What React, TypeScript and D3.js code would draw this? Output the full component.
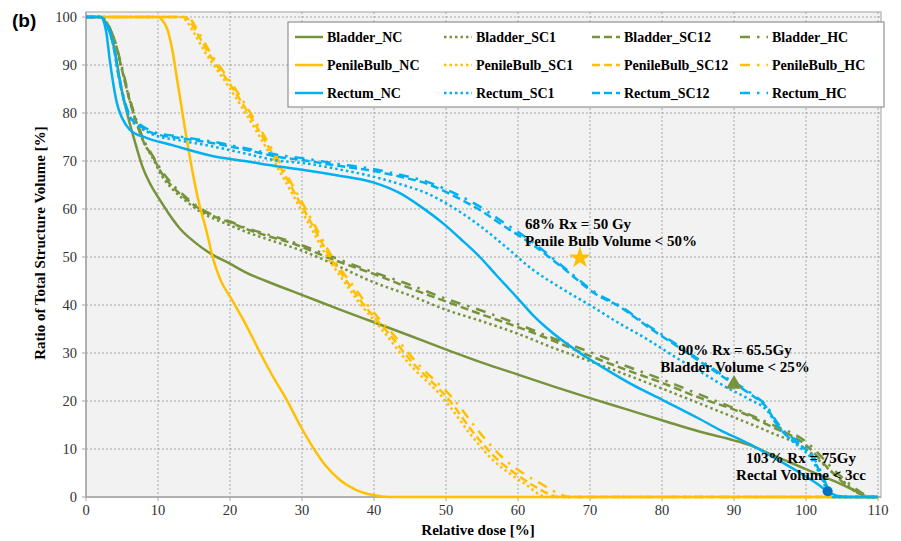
import React from "react";
import * as d3 from "d3";

const GREEN = "#77933c";
const YELLOW = "#ffc000";
const BLUE = "#00b0f0";

const xTicks = [0, 10, 20, 30, 40, 50, 60, 70, 80, 90, 100, 110];
const yTicks = [0, 10, 20, 30, 40, 50, 60, 70, 80, 90, 100];

const bladderNC_x = [0, 2, 3, 4, 4.8, 5.7, 6.7, 7.8, 9, 10.3, 11.5, 13, 15, 17.2, 20, 22.3, 25, 30.7, 35, 40, 45, 50.6, 55, 60, 65, 70, 75, 80, 85.3, 90, 92.2, 95, 99.2, 102, 105, 107.5, 108.5, 110];
const bladderNC_y = [100, 100, 98, 93, 86, 80, 74.5, 69, 65, 61.8, 59, 56, 53.2, 50.8, 48.6, 46.7, 45, 41.7, 39.2, 36.4, 33.6, 30.4, 28, 25.5, 23, 20.6, 18.3, 16, 13.6, 11.8, 10.8, 9, 6.3, 4.5, 2.6, 0.8, 0, 0];

const bladderSC12_x = [0, 2, 3, 4, 5, 6, 7, 8, 9.3, 10.5, 12.1, 14, 15.8, 18, 20, 22.3, 25, 29.3, 33.9, 40.8, 45, 50.6, 55, 60, 65, 69, 75, 80, 85, 91.2, 95, 100, 103.6, 106, 108, 109, 110];
const bladderSC12_y = [100, 100, 98.5, 95, 89, 83, 78, 74, 70.8, 67.5, 64.5, 62, 60, 58.3, 57.2, 55.8, 54.5, 52.5, 49.7, 46, 43.5, 40.4, 38, 35.4, 32.5, 30, 26.5, 23.8, 20.8, 17.5, 14.8, 10.8, 5.2, 2, 0.3, 0, 0];

const bladderSC1_x = [0, 2, 3, 4, 5, 6, 7, 8, 9.3, 10.5, 12.1, 14, 15.8, 18, 20, 22.3, 25, 30, 34, 40, 45, 50, 55, 60, 65, 70, 75, 80, 85, 90, 95, 100, 103, 105, 107.5, 108, 110];
const bladderSC1_y = [100, 100, 98.5, 95, 89, 83, 78, 74, 70.5, 67, 64, 61.5, 59.5, 57.8, 56.6, 55.2, 53.8, 51.3, 48.8, 44.7, 42, 39, 36.6, 34, 31, 28.3, 25.5, 22.6, 19.6, 16.6, 13.5, 10, 6, 3.5, 0.5, 0, 0];

const bladderHC_x = [0, 2, 3, 4, 5, 6, 7, 8, 9.3, 10.5, 12.1, 14, 15.8, 18, 20, 22.3, 25, 29.3, 33.9, 40, 45, 50, 55, 60, 65, 70, 75, 80, 85, 90, 95, 100, 104, 106.5, 108.5, 109.3, 110];
const bladderHC_y = [100, 100, 98.5, 95, 89.5, 83.5, 78.5, 74.5, 71, 68, 65, 62.3, 60.2, 58.5, 57.4, 56, 54.8, 52.8, 50.2, 46.8, 44.2, 41.3, 38.8, 36, 33, 30.2, 27.3, 24.5, 21.5, 18.5, 15.3, 11.5, 5.5, 2.2, 0.3, 0, 0];

const penileNC_x = [0, 10, 10.5, 11.4, 12, 12.6, 13.5, 14.4, 15.5, 16.8, 17.7, 18.6, 20.3, 22, 24.2, 26, 27.9, 29.7, 31.5, 33.3, 35.3, 37.5, 39.9, 42, 110];
const penileNC_y = [100, 100, 99.5, 97, 93, 87.5, 79, 71, 62.5, 55, 49.4, 45.5, 41, 36.5, 30, 25, 20.2, 15, 10.4, 6.5, 3.5, 1.5, 0.4, 0, 0];

const penileSC12_x = [0, 13.5, 14, 15.4, 17, 18.6, 20, 22.3, 25.6, 29.3, 31.5, 33.9, 36.2, 38.1, 40, 41.8, 45.4, 50.1, 54.3, 57, 60, 62, 64.5, 65.5, 110];
const penileSC12_y = [100, 100, 99.8, 96.7, 92.5, 89, 86, 80.6, 72.3, 62.5, 56.5, 50, 45, 41, 37.5, 34.5, 27.9, 20.8, 12.5, 8, 4.5, 2.5, 0.5, 0, 0];

const penileSC1_x = [0, 13, 13.5, 15, 16.6, 18.2, 19.6, 21.9, 25.2, 28.9, 31.1, 33.5, 35.8, 37.7, 39.6, 41.3, 44.8, 49.5, 53.7, 56.3, 59.2, 61.2, 63, 64, 110];
const penileSC1_y = [100, 100, 99.8, 96.7, 92.5, 89, 86, 80.6, 72.3, 62.5, 56.5, 50, 45, 41, 37.5, 34.5, 27.9, 20.8, 12.5, 8, 4.5, 2.5, 0.5, 0, 0];

const penileHC_x = [0, 13.8, 14.3, 15.7, 17.3, 18.9, 20.3, 22.6, 25.9, 29.6, 31.8, 34.2, 36.6, 38.6, 40.5, 42.3, 46, 50.8, 55.2, 58, 61.2, 63.5, 66, 67, 110];
const penileHC_y = [100, 100, 99.8, 96.7, 92.5, 89, 86, 80.6, 72.3, 62.5, 56.5, 50, 45, 41, 37.5, 34.5, 27.9, 20.8, 12.5, 8, 4.5, 2.5, 0.5, 0, 0];

const rectumNC_x = [0, 2, 2.8, 3.3, 3.8, 4.3, 5, 6.1, 8.4, 12, 17.7, 22, 27, 30, 35, 40, 43.6, 46.5, 49.6, 52, 54.7, 57, 59.9, 62, 64, 68.6, 72, 76, 80.1, 85.3, 88, 92.2, 96, 99.2, 101.5, 103, 104.5, 106, 110];
const rectumNC_y = [100, 100, 97, 91, 86, 82, 79, 76.5, 74.8, 73.3, 71, 70, 68.8, 68.2, 67, 65.5, 63.3, 60.5, 57, 53.8, 50, 46.2, 41.5, 38, 35.2, 30, 26.8, 23.3, 20.2, 16.2, 14, 11, 7.8, 5, 2.8, 1.2, 0.2, 0, 0];

const rectumSC12_x = [0, 2, 3, 3.8, 4.5, 5.2, 6.1, 7.5, 9.3, 13, 17.7, 22, 27, 30, 35, 40, 44, 47.3, 51, 54.7, 58, 62.1, 66, 71.4, 73.7, 78, 82, 86, 89, 92.2, 94.6, 96, 97.5, 99, 100.5, 102, 103, 103.8, 110];
const rectumSC12_y = [100, 100, 98, 94, 88, 83, 79.2, 77.3, 75.8, 74.8, 73.7, 72.4, 70.8, 70.2, 69, 67.9, 66.6, 65.3, 62.8, 59.8, 56.5, 52.5, 48, 41.7, 40, 35.5, 31.5, 27.5, 24.5, 21.5, 18.5, 15, 12.5, 11, 9, 5, 1.5, 0, 0];

const rectumSC1_x = [0, 2, 3, 3.8, 4.5, 5.2, 6.1, 7.5, 9.3, 13, 17.7, 22, 27, 30, 35, 40, 44, 47.3, 51, 54.7, 58, 62.1, 66, 70.4, 73.7, 78, 82, 86, 89, 92.2, 94.6, 96, 97.5, 99, 100.5, 102, 103, 103.8, 110];
const rectumSC1_y = [100, 100, 98, 94, 88, 83, 79, 77, 75.5, 74.3, 73, 71.6, 70, 69.6, 68.3, 66.7, 65, 63.3, 60.3, 56.5, 52.5, 47.3, 43.5, 39.6, 36.5, 32.8, 29, 25.5, 22.8, 20.3, 18, 15, 12.5, 10.5, 8.5, 4.5, 1.2, 0, 0];

const rectumHC_x = [0, 2, 3, 3.8, 4.5, 5.2, 6.1, 7.5, 9.3, 13, 17.7, 22, 27, 30, 35, 40, 44, 47.3, 51, 54.7, 58, 62.1, 66, 71.4, 73.7, 78, 82, 86, 89, 92.2, 94.6, 96, 97.5, 99, 100.5, 102, 103, 103.8, 110];
const rectumHC_y = [100, 100, 98.3, 94.5, 88.5, 83.5, 79.5, 77.6, 76.1, 75.1, 74, 72.7, 71.2, 70.6, 69.4, 68.3, 67, 65.7, 63.4, 60.5, 57.2, 53, 48.3, 42, 40.2, 35.8, 31.8, 27.8, 24.8, 21.8, 18.8, 15.5, 13, 11.5, 9.5, 5.5, 2, 0, 0];

const seriesNames = [
  "Bladder_NC", "Bladder_SC1", "Bladder_SC12", "Bladder_HC",
  "PenileBulb_NC", "PenileBulb_SC1", "PenileBulb_SC12", "PenileBulb_HC",
  "Rectum_NC", "Rectum_SC1", "Rectum_SC12", "Rectum_HC",
];
const seriesX = [bladderNC_x, bladderSC1_x, bladderSC12_x, bladderHC_x, penileNC_x, penileSC1_x, penileSC12_x, penileHC_x, rectumNC_x, rectumSC1_x, rectumSC12_x, rectumHC_x];
const seriesY = [bladderNC_y, bladderSC1_y, bladderSC12_y, bladderHC_y, penileNC_y, penileSC1_y, penileSC12_y, penileHC_y, rectumNC_y, rectumSC1_y, rectumSC12_y, rectumHC_y];

const annStar = { x: 68.6, y: 49.8 };
const annTri = { x: 90, y: 23.5 };
const annDot = { x: 103, y: 1.2 };

const colors = [GREEN, YELLOW, BLUE];
const dashes = ["none", "2.5,3", "8,4", "10,7,2.5,7"];

const W = 901, H = 541;
const left = 86, right = 878, top = 17, bottom = 497;
const SERIF = "\"Liberation Serif\", \"Times New Roman\", \"DejaVu Serif\", serif";
const SANS = "\"Liberation Sans\", Arial, sans-serif";

export default function App() {
  const x = d3.scaleLinear().domain([0, 110]).range([left, right]);
  const y = d3.scaleLinear().domain([0, 100]).range([bottom, top]);
  const line = d3.line<[number, number]>().x(d => x(d[0])).y(d => y(d[1])).curve(d3.curveMonotoneX);

  const legendCols = [295, 444, 592, 740];
  const legendRows = [37, 65, 93];

  const star = d3.symbol().type(d3.symbolStar).size(150)();
  const tri = d3.symbol().type(d3.symbolTriangle).size(110)();
  const serifStyle = { fontFamily: SERIF };

  return (
    <svg width={W} height={H} style={{ position: "absolute", left: 0, top: 0, background: "#fff" }}>
      <text x={12} y={27} style={{ fontFamily: SANS }} fontWeight="bold" fontSize={19} fill="#000">(b)</text>
      <rect x={left} y={12} width={right - left + 3} height={bottom - 12} fill="#f2f2f2" stroke="#bfbfbf" strokeWidth={1.5} />
      {xTicks.filter(t => t > 0).map(t => (
        <line key={"gx" + t} x1={x(t)} x2={x(t)} y1={12} y2={bottom} stroke="#a6a6a6" strokeWidth={1} strokeDasharray="2,2" />
      ))}
      {yTicks.filter(t => t > 0).map(t => (
        <line key={"gy" + t} x1={left} x2={right + 3} y1={y(t)} y2={y(t)} stroke="#a6a6a6" strokeWidth={1} strokeDasharray="2,2" />
      ))}
      <line x1={left} x2={right + 3} y1={bottom} y2={bottom} stroke="#a6a6a6" strokeWidth={1.5} />
      <line x1={left} x2={left} y1={12} y2={bottom} stroke="#a6a6a6" strokeWidth={1.5} />
      {xTicks.map(t => (
        <g key={"tx" + t}>
          <line x1={x(t)} x2={x(t)} y1={bottom} y2={bottom + 4} stroke="#a6a6a6" />
          <text x={x(t)} y={515} textAnchor="middle" style={serifStyle} fontSize={14.5} fill="#333">{t}</text>
        </g>
      ))}
      {yTicks.map(t => (
        <g key={"ty" + t}>
          <line x1={left - 4} x2={left} y1={y(t)} y2={y(t)} stroke="#a6a6a6" />
          <text x={77} y={y(t) + 4.5} textAnchor="end" style={serifStyle} fontSize={14.5} fill="#333">{t}</text>
        </g>
      ))}
      <text x={478} y={535} textAnchor="middle" style={serifStyle} fontWeight="bold" fontSize={15} fill="#000">Relative dose [%]</text>
      <text transform={`translate(45,243) rotate(-90)`} textAnchor="middle" style={serifStyle} fontWeight="bold" fontSize={15} fill="#000">Ratio of Total Structure Volume [%]</text>

      {seriesNames.map((n, i) => {
        const pts = seriesX[i].map((v, j) => [v, seriesY[i][j]] as [number, number]);
        return (
          <path key={n} d={line(pts) || ""} fill="none" stroke={colors[Math.floor(i / 4)]} strokeWidth={2.5}
            strokeDasharray={dashes[i % 4]} />
        );
      })}

      <rect x={288} y={22} width={596} height={85} fill="#fff" stroke="#7f7f7f" strokeWidth={1} />
      {seriesNames.map((n, i) => {
        const r = Math.floor(i / 4), c = i % 4;
        const lx = legendCols[c], ly = legendRows[r];
        return (
          <g key={"lg" + n}>
            <line x1={lx} x2={lx + 28} y1={ly} y2={ly} stroke={colors[r]} strokeWidth={2.5} strokeDasharray={dashes[c]} />
            <text x={lx + 32} y={ly + 4.5} style={serifStyle} fontWeight="bold" fontSize={14} fill="#000">{n}</text>
          </g>
        );
      })}

      <text style={serifStyle} fontWeight="bold" fontSize={15} fill="#000">
        <tspan x={525} y={229}>68% Rx = 50 Gy</tspan>
        <tspan x={525} y={246}>Penile Bulb Volume &lt; 50%</tspan>
      </text>
      <path d={star || ""} transform={`translate(${x(annStar.x)},${y(annStar.y)})`} fill={YELLOW} />

      <text style={serifStyle} fontWeight="bold" fontSize={15} fill="#000" textAnchor="middle">
        <tspan x={735} y={355}>90% Rx = 65.5Gy</tspan>
        <tspan x={735} y={372}>Bladder Volume &lt; 25%</tspan>
      </text>
      <path d={tri || ""} transform={`translate(${x(annTri.x)},${y(annTri.y)})`} fill={GREEN} />

      <text style={serifStyle} fontWeight="bold" fontSize={15} fill="#000" textAnchor="middle">
        <tspan x={801} y={463}>103% Rx = 75Gy</tspan>
        <tspan x={801} y={480}>Rectal Volume &lt; 3cc</tspan>
      </text>
      <circle cx={x(annDot.x)} cy={y(annDot.y)} r={5} fill="#0070c0" />
    </svg>
  );
}
